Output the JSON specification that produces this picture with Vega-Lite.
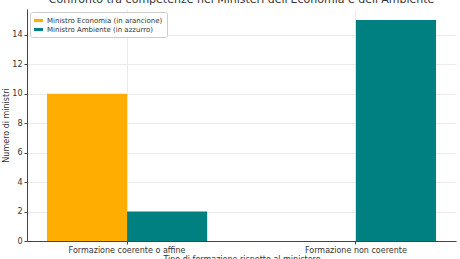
{
  "$schema": "https://vega.github.io/schema/vega-lite/v6.json",
  "width": 429,
  "height": 232,
  "autosize": {"type": "none"},
  "padding": {"left": 27, "top": 9, "right": 4, "bottom": 18},
  "background": "white",
  "title": {
    "text": "Confronto tra competenze nei Ministeri dell'Economia e dell'Ambiente",
    "font": "DejaVu Sans",
    "fontSize": 11,
    "fontWeight": "normal",
    "color": "#333333",
    "anchor": "middle",
    "frame": "group",
    "offset": 4
  },
  "data": {
    "values": [
      {"formazione": "Formazione coerente o affine", "ministro": "Ministro Economia (in arancione)", "numero": 10},
      {"formazione": "Formazione coerente o affine", "ministro": "Ministro Ambiente (in azzurro)", "numero": 2},
      {"formazione": "Formazione non coerente", "ministro": "Ministro Economia (in arancione)", "numero": 0},
      {"formazione": "Formazione non coerente", "ministro": "Ministro Ambiente (in azzurro)", "numero": 15}
    ]
  },
  "mark": {"type": "bar"},
  "encoding": {
    "x": {
      "field": "formazione",
      "type": "nominal",
      "sort": null,
      "scale": {"paddingInner": 0.3, "paddingOuter": 0.0873},
      "axis": {
        "title": "Tipo di formazione rispetto al ministero",
        "labelAngle": 0,
        "bandPosition": 0.5,
        "grid": true,
        "gridColor": "#e6e6e6",
        "gridWidth": 0.8,
        "domainColor": "#444444",
        "tickColor": "#444444",
        "tickSize": 3,
        "labelFont": "DejaVu Sans",
        "labelFontSize": 8,
        "labelColor": "#333333",
        "labelPadding": 2,
        "titleFont": "DejaVu Sans",
        "titleFontSize": 8,
        "titleFontWeight": "normal",
        "titleColor": "#333333",
        "titlePadding": 1
      }
    },
    "xOffset": {
      "field": "ministro",
      "type": "nominal",
      "sort": ["Ministro Economia (in arancione)", "Ministro Ambiente (in azzurro)"],
      "scale": {"paddingInner": 0, "paddingOuter": 0}
    },
    "y": {
      "field": "numero",
      "type": "quantitative",
      "scale": {"domain": [0, 15.75], "nice": false},
      "axis": {
        "title": "Numero di ministri",
        "values": [0, 2, 4, 6, 8, 10, 12, 14],
        "grid": true,
        "gridColor": "#e6e6e6",
        "gridWidth": 0.8,
        "domainColor": "#444444",
        "tickColor": "#444444",
        "tickSize": 3,
        "labelFont": "DejaVu Sans",
        "labelFontSize": 8,
        "labelColor": "#333333",
        "labelPadding": 2,
        "titleFont": "DejaVu Sans",
        "titleFontSize": 8,
        "titleFontWeight": "normal",
        "titleColor": "#333333",
        "titlePadding": 1
      }
    },
    "color": {
      "field": "ministro",
      "type": "nominal",
      "sort": ["Ministro Economia (in arancione)", "Ministro Ambiente (in azzurro)"],
      "scale": {
        "domain": ["Ministro Economia (in arancione)", "Ministro Ambiente (in azzurro)"],
        "range": ["#FFAE00", "#008080"]
      },
      "legend": {
        "title": null,
        "orient": "top-left",
        "offset": 3,
        "fillColor": "white",
        "strokeColor": "#cccccc",
        "padding": 4,
        "cornerRadius": 2,
        "symbolType": "M-1,-0.35H1V0.35H-1Z",
        "symbolSize": 80,
        "symbolStrokeWidth": 0,
        "labelFont": "DejaVu Sans",
        "labelFontSize": 7,
        "labelColor": "#333333",
        "labelOffset": 4,
        "rowPadding": 1,
        "symbolOpacity": 1
      }
    }
  },
  "config": {
    "view": {"stroke": null},
    "axis": {"domainWidth": 1}
  }
}
